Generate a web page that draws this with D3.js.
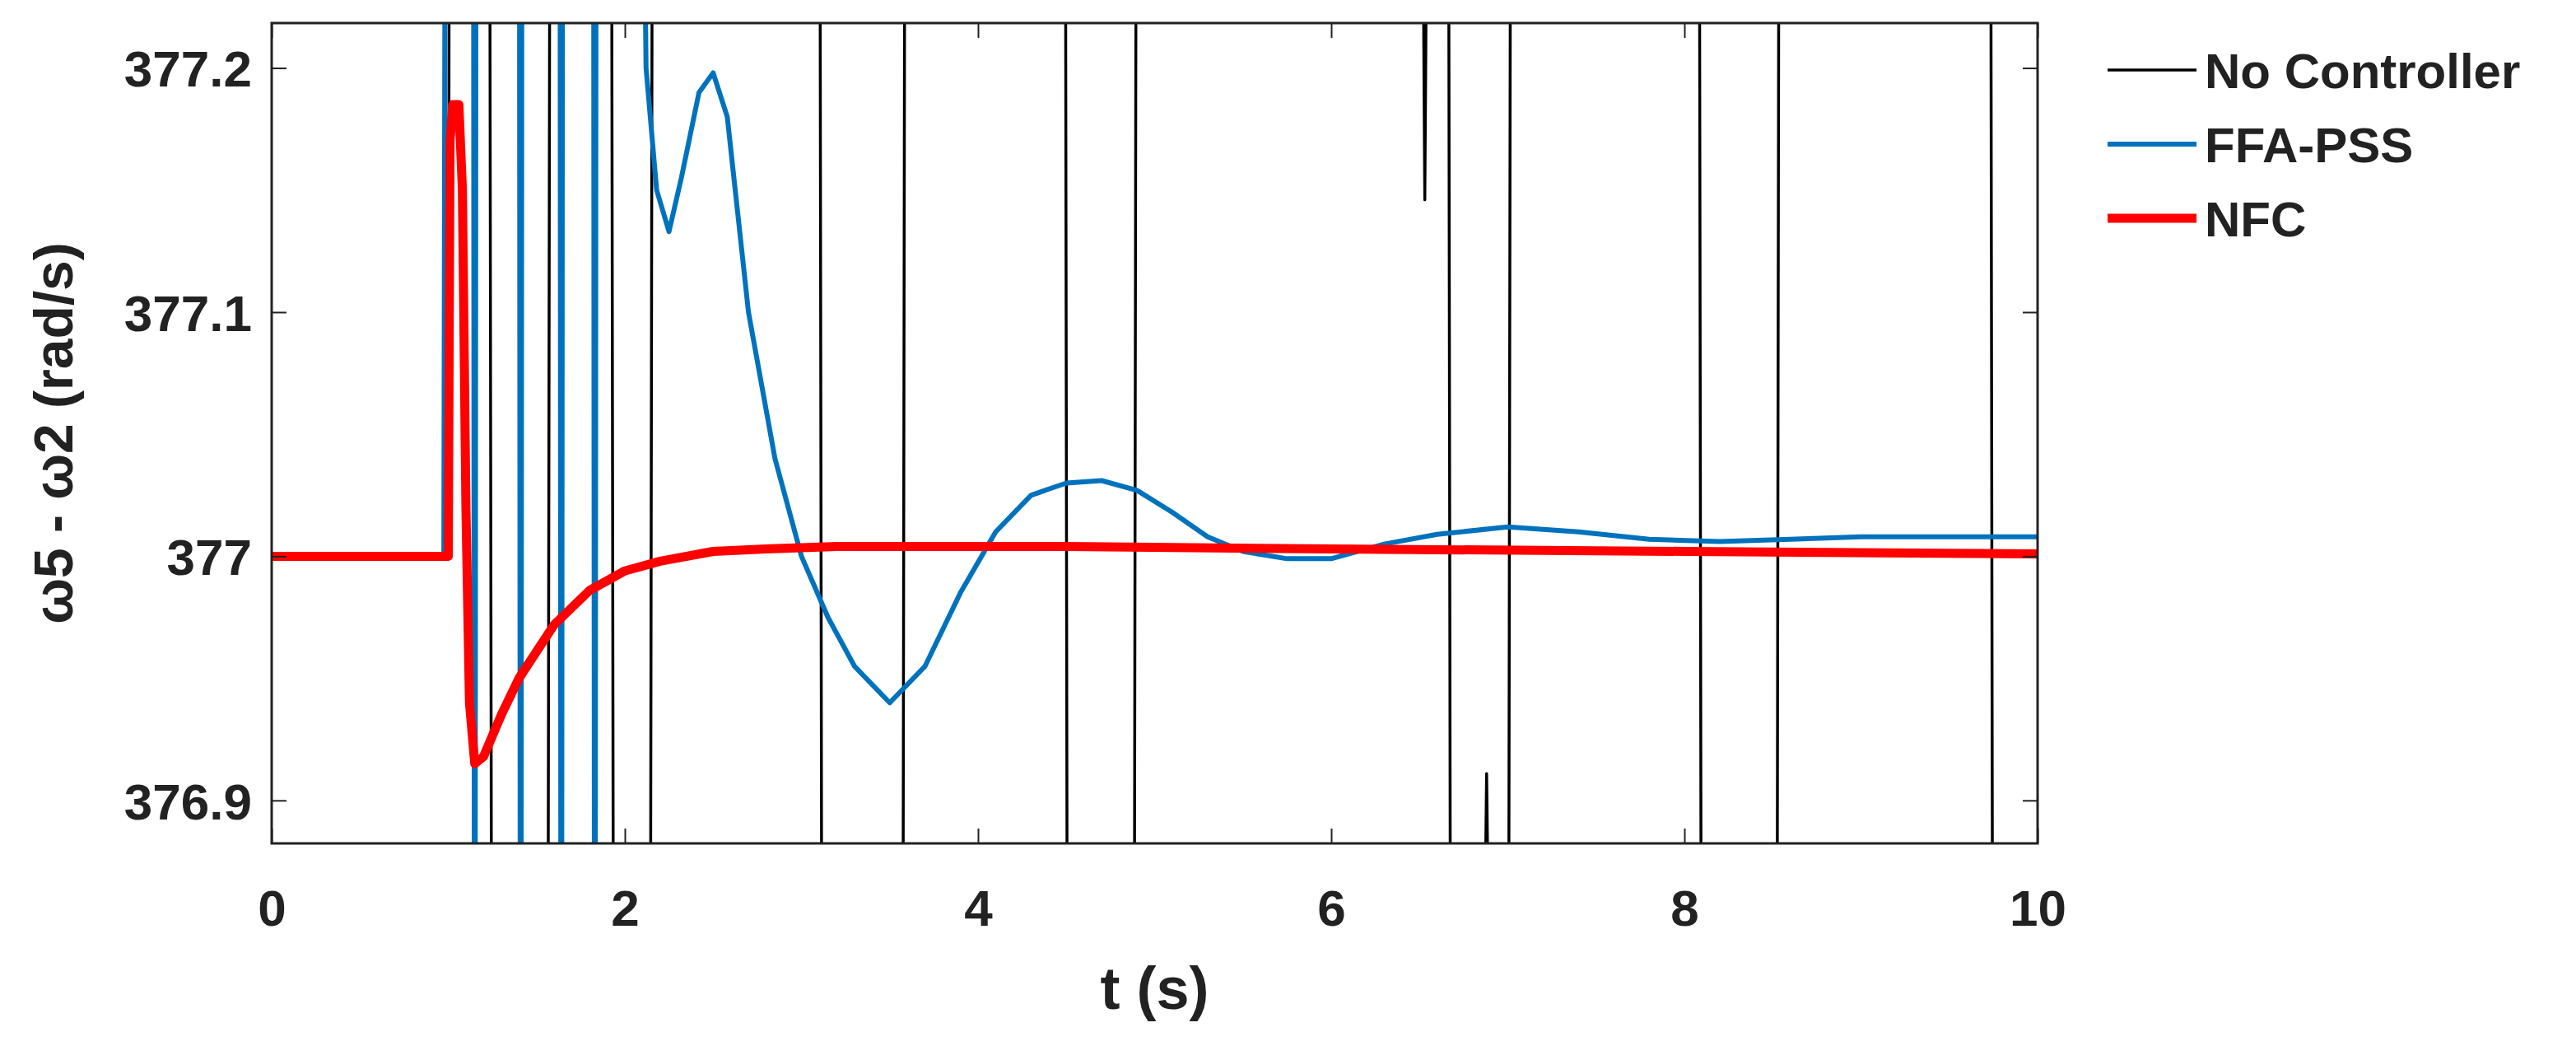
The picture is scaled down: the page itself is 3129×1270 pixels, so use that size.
<!DOCTYPE html>
<html><head><meta charset="utf-8">
<script src="https://cdn.jsdelivr.net/npm/d3@7"></script>
<style>body{margin:0;background:#fff}text{font-family:"Liberation Sans Narrow","Arial Narrow",Arial,sans-serif;font-weight:bold;fill:#222}</style>
</head><body><svg id="c" width="3129" height="1270"></svg>
<script>
const xTicks=[0,2,4,6,8,10];
const yTicks=[376.9,377.0,377.1,377.2];
const yTickLabels=["376.9","377","377.1","377.2"];
const seriesNames=["No Controller","FFA-PSS","NFC"];
// No Controller: stays 377 until 1.0 then sweeps far out of range; crossings
const noCtrlT=[0,1.0,1.01,1.23,1.25,1.56,1.58,1.92,1.94,2.14,2.16,3.10,3.12,3.57,3.59,4.49,4.51,4.88,4.90,6.50,6.525,6.53,6.535,6.56,6.66,6.68,6.86,6.875,6.88,6.885,6.90,7.00,7.02,8.08,8.10,8.52,8.54,9.73,9.75,10];
const noCtrlV=[377,377,377.5,377.5,376.6,376.6,377.5,377.5,376.6,376.6,377.5,377.5,376.6,376.6,377.5,377.5,376.6,376.6,377.5,377.5,377.2,377.146,377.2,377.5,377.5,376.6,376.6,376.88,376.911,376.88,376.6,376.6,377.5,377.5,376.6,376.6,377.5,377.5,376.6,376.6];
const ffaT=[0,0.975,0.99,1.14,1.15,1.16,1.40,1.41,1.42,1.63,1.64,1.65,1.82,1.83,1.84,2.06,2.12,2.18,2.25,2.32,2.42,2.5,2.58,2.7,2.85,3.0,3.15,3.3,3.5,3.7,3.9,4.1,4.3,4.5,4.7,4.9,5.1,5.3,5.5,5.75,6.0,6.3,6.6,7.0,7.4,7.8,8.2,8.6,9.0,9.5,10];
const ffaV=[377,377,377.6,377.6,376.6,377.6,377.6,376.6,377.6,377.6,376.6,377.6,377.6,376.6,377.6,377.6,377.2,377.15,377.133,377.155,377.19,377.198,377.18,377.1,377.04,377.0,376.975,376.955,376.94,376.955,376.985,377.01,377.025,377.03,377.031,377.027,377.018,377.008,377.002,376.999,376.999,377.005,377.009,377.012,377.01,377.007,377.006,377.007,377.008,377.008,377.008];
const nfcT=[0,1.0,1.01,1.025,1.06,1.08,1.10,1.12,1.15,1.2,1.3,1.4,1.6,1.8,2.0,2.2,2.5,2.8,3.2,3.6,4.5,6,8,10];
const nfcV=[377,377,377.17,377.185,377.185,377.15,377.02,376.94,376.915,376.918,376.935,376.95,376.972,376.986,376.994,376.998,377.002,377.003,377.004,377.004,377.004,377.003,377.002,377.001];

const svg=d3.select("#c");
const L=330,R=2475,T=28,B=1024;
const x=d3.scaleLinear().domain([0,10]).range([L,R]);
const y=d3.scaleLinear().domain([376.8824,377.2184]).range([B,T]);
svg.append("defs").append("clipPath").attr("id","cp").append("rect").attr("x",L).attr("y",T).attr("width",R-L).attr("height",B-T);
const g=svg.append("g").attr("clip-path","url(#cp)");
const line=d3.line().x(d=>x(d[0])).y(d=>y(d[1]));
const mk=(t,v)=>t.map((a,i)=>[a,v[i]]);
const series=[[noCtrlT,noCtrlV,"#000",3.5],[ffaT,ffaV,"#0072BD",6],[nfcT,nfcV,"#FF0000",11]];
series.forEach(s=>g.append("path").attr("d",line(mk(s[0],s[1]))).attr("fill","none").attr("stroke",s[2]).attr("stroke-width",s[3]).attr("stroke-linejoin","round"));
// axes
const fs=62;
const ax=svg.append("g").attr("transform",`translate(0,${B})`).call(d3.axisBottom(x).tickValues(xTicks).tickSize(-18).tickPadding(0).tickFormat(d3.format("d")));
ax.selectAll("text").attr("font-size",fs).attr("dy",0).attr("y",100);
svg.append("g").attr("transform",`translate(0,${T})`).call(d3.axisTop(x).tickValues(xTicks).tickSize(-18).tickFormat(""));
const ay=svg.append("g").attr("transform",`translate(${L},0)`).call(d3.axisLeft(y).tickValues(yTicks).tickSize(-18).tickFormat((d,i)=>yTickLabels[i]));
ay.selectAll("text").attr("font-size",fs).attr("x",-24).attr("dy","0.36em");
svg.append("g").attr("transform",`translate(${R},0)`).call(d3.axisRight(y).tickValues(yTicks).tickSize(-18).tickFormat(""));
svg.selectAll(".domain").remove();
svg.selectAll(".tick line").attr("stroke","#222").attr("stroke-width",2);
svg.append("rect").attr("x",L).attr("y",T).attr("width",R-L).attr("height",B-T).attr("fill","none").attr("stroke","#222").attr("stroke-width",3);
svg.append("text").attr("x",(L+R)/2).attr("y",1225).attr("text-anchor","middle").attr("font-size",72).text("t (s)");
svg.append("text").attr("transform",`translate(88,${(T+B)/2}) rotate(-90)`).attr("text-anchor","middle").attr("font-size",66).text("ω5 - ω2 (rad/s)");
// legend
const lg=svg.append("g");
seriesNames.forEach((n,i)=>{
  const yy=85+i*90;
  lg.append("line").attr("x1",2560).attr("x2",2668).attr("y1",yy).attr("y2",yy).attr("stroke",series[i][2]).attr("stroke-width",series[i][3]);
  lg.append("text").attr("x",2678).attr("y",yy).attr("dy","0.36em").attr("font-size",60).text(n);
});
</script></body></html>
